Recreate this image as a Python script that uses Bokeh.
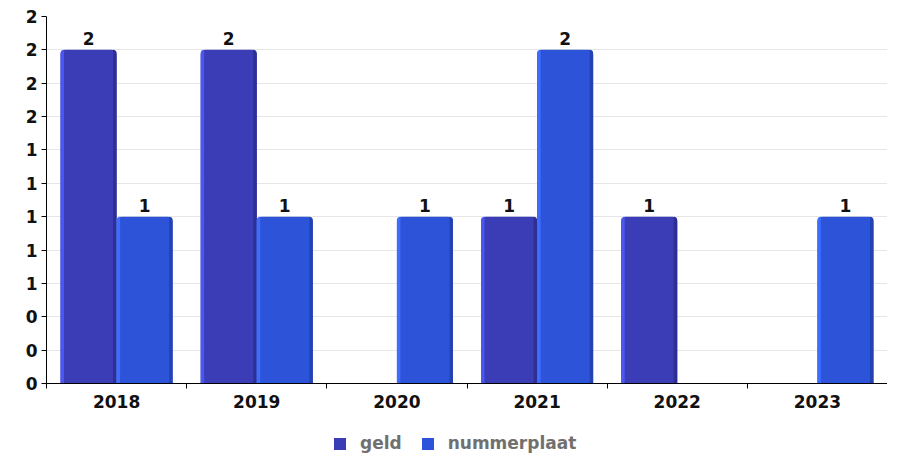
import numpy as np
from bokeh.plotting import figure
from bokeh.layouts import column
from bokeh.models import ColumnDataSource, FixedTicker, Legend, LegendItem, Range1d
from bokeh.embed import file_html
from bokeh.resources import INLINE

# ---- data ----
years = ["2018", "2019", "2020", "2021", "2022", "2023"]
geld = [2, 2, 0, 1, 1, 0]
nummerplaat = [1, 1, 1, 2, 0, 1]
series_names = ["geld", "nummerplaat"]
y_ticks = [0.0, 0.2, 0.4, 0.6, 0.8, 1.0, 1.2, 1.4, 1.6, 1.8, 2.0, 2.2]
y_tick_labels = ["0", "0", "0", "1", "1", "1", "1", "1", "2", "2", "2", "2"]

# ---- styles ----
main_colors = ["#3a3db6", "#2d54d8"]
light_colors = ["#4b57f2", "#3d6cff"]
dark_colors = ["#2e2f92", "#2343b3"]
FONT = "DejaVu Sans"
FS = "17px"
BAR_W = 0.40
STRIP = 0.025

n = len(years)
centers = np.arange(n) + 0.5
offsets = [-BAR_W / 2, BAR_W / 2]
series = [geld, nummerplaat]

p = figure(width=887, height=433, output_backend="svg",
           toolbar_location=None, x_range=Range1d(0, n),
           y_range=Range1d(y_ticks[0], y_ticks[-1]),
           min_border_left=46, min_border_top=16, min_border_right=0,
           min_border_bottom=50)
p.outline_line_color = None
p.background_fill_color = "white"
p.border_fill_color = "white"

for k, vals in enumerate(series):
    xs = centers + offsets[k]
    src = ColumnDataSource(dict(x=xs, top=vals))
    p.vbar(x="x", top="top", width=BAR_W, source=src,
           fill_color=main_colors[k], line_color=None,
           border_radius=(5, 5, 0, 0))
    srcl = ColumnDataSource(dict(x=xs - BAR_W / 2 + STRIP / 2, top=vals))
    p.vbar(x="x", top="top", width=STRIP, source=srcl,
           fill_color=light_colors[k], line_color=None,
           border_radius=(4, 0, 0, 0))
    srcr = ColumnDataSource(dict(x=xs + BAR_W / 2 - STRIP / 2, top=vals))
    p.vbar(x="x", top="top", width=STRIP, source=srcr,
           fill_color=dark_colors[k], line_color=None,
           border_radius=(0, 4, 0, 0))
    nz = [i for i, v in enumerate(vals) if v != 0]
    srct = ColumnDataSource(dict(x=[xs[i] for i in nz],
                                 y=[vals[i] for i in nz],
                                 t=[str(vals[i]) for i in nz]))
    p.text(x="x", y="y", text="t", source=srct, text_align="center",
           text_baseline="alphabetic", y_offset=-11,
           text_font={"value": FONT}, text_font_style="bold",
           text_font_size={"value": FS}, text_color="#111111")

# axes
p.yaxis.ticker = FixedTicker(ticks=y_ticks)
p.yaxis.major_label_overrides = {t: l for t, l in zip(y_ticks, y_tick_labels)}
p.yaxis.major_tick_out = 5
p.yaxis.major_tick_in = 0
p.yaxis.minor_tick_out = 0
p.yaxis.minor_tick_in = 0
p.yaxis.major_label_standoff = 4
p.yaxis.axis_line_color = "black"
p.yaxis.major_tick_line_color = "black"

p.xaxis.ticker = FixedTicker(ticks=list(centers),
                             minor_ticks=list(np.arange(n + 1)))
p.xaxis.major_label_overrides = {float(c): y for c, y in zip(centers, years)}
p.xaxis.major_tick_out = 0
p.xaxis.major_tick_in = 0
p.xaxis.minor_tick_out = 5
p.xaxis.minor_tick_in = 0
p.xaxis.minor_tick_line_color = "black"
p.xaxis.major_label_standoff = 6
p.xaxis.axis_line_color = "black"

for ax in (p.xaxis, p.yaxis):
    ax.major_label_text_font = FONT
    ax.major_label_text_font_style = "bold"
    ax.major_label_text_font_size = FS
    ax.major_label_text_color = "#111111"

p.xgrid.grid_line_color = None
p.ygrid.ticker = FixedTicker(ticks=y_ticks)
p.ygrid.grid_line_color = "#e6e6e6"
p.ygrid.grid_line_width = 1

# ---- legend strip (separate small figure below the chart) ----
lg = figure(width=887, height=20, output_backend="svg", toolbar_location=None,
            x_range=Range1d(0, 1), y_range=Range1d(0, 1), min_border=0)
lg.axis.visible = False
lg.grid.grid_line_color = None
lg.outline_line_color = None
legend_items = []
for k, name in enumerate(series_names):
    # swatch-only renderer, kept outside the visible range of this strip
    r = lg.vbar(x=[5], top=[5], bottom=[4], width=1,
                fill_color=main_colors[k], line_color=None)
    legend_items.append(LegendItem(label=name, renderers=[r]))
legend = Legend(items=legend_items, orientation="horizontal",
                location=(286, 0), padding=0, margin=0,
                border_line_color=None, background_fill_alpha=0,
                glyph_width=15, glyph_height=15, label_height=20,
                label_standoff=13, spacing=18,
                label_text_font=FONT, label_text_font_style="bold",
                label_text_font_size=FS, label_text_color="#707070")
lg.add_layout(legend, "center")

layout = column(p, lg, spacing=0)
open("out.html", "w").write(file_html(layout, INLINE))
